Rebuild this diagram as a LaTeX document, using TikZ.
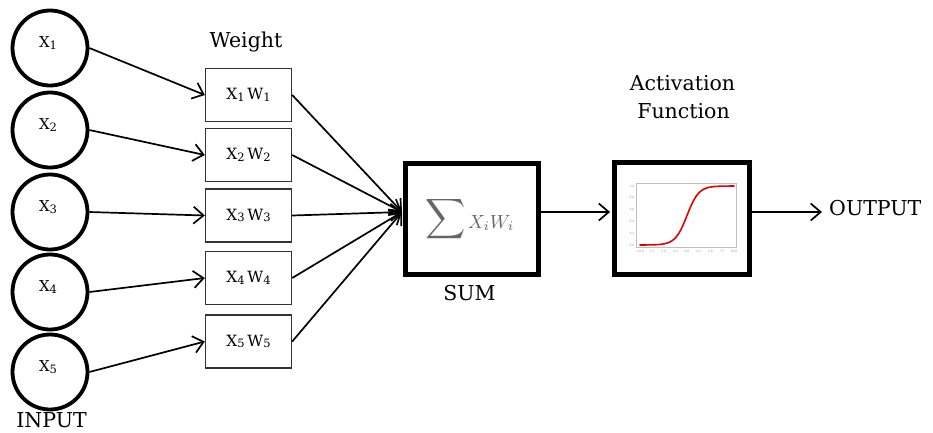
\documentclass[tikz,border=0pt]{standalone}
\usepackage{fontspec}
\setmainfont{DejaVu Serif}
\usetikzlibrary{arrows.meta}

% digit set low and small after a letter, as in X1W1
\newcommand\lowdigit[1]{{\fontsize{11.5}{11.5}\selectfont\raisebox{-1.5pt}{#1}}}

\begin{document}
\begin{tikzpicture}[x=1pt,y=-1pt,
  inputnode/.style={circle, draw, line width=3.8pt, minimum size=75pt, inner sep=0pt},
  innertext/.style={font=\fontsize{15}{15}\selectfont},
  weightbox/.style={rectangle, draw=black!80, line width=1.4pt, minimum width=86pt,
    minimum height=53pt, inner sep=0pt, font=\fontsize{15.5}{15.5}\selectfont},
  bigbox/.style={rectangle, draw, line width=4.8pt, inner sep=0pt},
  caption/.style={font=\fontsize{20.5}{24}\selectfont, inner sep=0pt},
  conn/.style={line width=1.7pt, -{Straight Barb[length=10pt,width=17pt]}},
  ticklbl/.style={font=\fontsize{3}{3}\selectfont, text=black!45, inner sep=0pt}
]
\fill[white] (0,0) rectangle (933,432);
\useasboundingbox (0,0) rectangle (933,432);

% input neurons
\foreach \i/\yy in {1/48, 2/130, 3/212, 4/292, 5/372}{
  \node[inputnode, label={[innertext, xshift=-2pt, yshift=5pt]center:X\lowdigit{\i}}] (c\i) at (50,\yy) {};
}

% weighted inputs
\foreach \i/\yy in {1/95, 2/155, 3/215.5, 4/278, 5/341.5}{
  \node[weightbox] (w\i) at (248.5,\yy) {X\lowdigit{\i}\,W\lowdigit{\i}};
}

% summation and activation blocks
\node[bigbox, minimum width=133pt, minimum height=111pt] (sum) at (472,219) {};
\node[bigbox, minimum width=135pt, minimum height=112pt] (act) at (682,218.5) {};

\node[text=black!60, inner sep=0pt] (sumtext) at (470,219)
  {\scalebox{2.8}{$\displaystyle\sum$}\,\raisebox{-2pt}{\scalebox{1.9}{$X_iW_i$}}};

% sigmoid plot inside the activation block
\draw[black!25, line width=0.4pt] (636,183) rectangle (736,247);
\draw[red!90!black, line width=1.6pt, line cap=round]
  plot[domain=-10:10, samples=80, smooth] ({687+4.7*\x}, {245-59/(1+exp(-0.8*\x))});
\foreach \k/\t in {0/-10.0,1/-7.5,2/-5.0,3/-2.5,4/0.0,5/2.5,6/5.0,7/7.5,8/10.0}{
  \node[ticklbl] (xt\k) at ({640+11.75*\k},251.5) {\t};
}
\foreach \k/\t in {0/0.0,1/0.2,2/0.4,3/0.6,4/0.8,5/1.0}{
  \node[ticklbl, anchor=east] (yt\k) at (634.5,{245-11.8*\k}) {\t};
}

% captions
\node[caption, anchor=base] (weightlbl) at (246,47) {Weight};
\node[caption, anchor=base] (actlbl1) at (682.5,90) {Activation};
\node[caption, anchor=base] (actlbl2) at (683.5,118) {Function};
\node[caption, anchor=base] (sumlbl) at (469.5,300) {SUM};
\node[caption, anchor=base] (inlbl) at (51.5,427) {INPUT};
\node[caption, anchor=base west] (outlbl) at (829,215) {OUTPUT};

% connectors
\coordinate (sumin) at (402,212);
\coordinate (outend) at (822,212);
\foreach \i in {1,...,5}{
  \draw[conn] (c\i.east) -- (w\i.west);
  \draw[conn] (w\i.east) -- (sumin);
}
\draw[conn, shorten >=2pt] (sum.east |- sumin) -- (act.west |- sumin);
\draw[conn] (act.east |- sumin) -- (outend);
\end{tikzpicture}
\end{document}
